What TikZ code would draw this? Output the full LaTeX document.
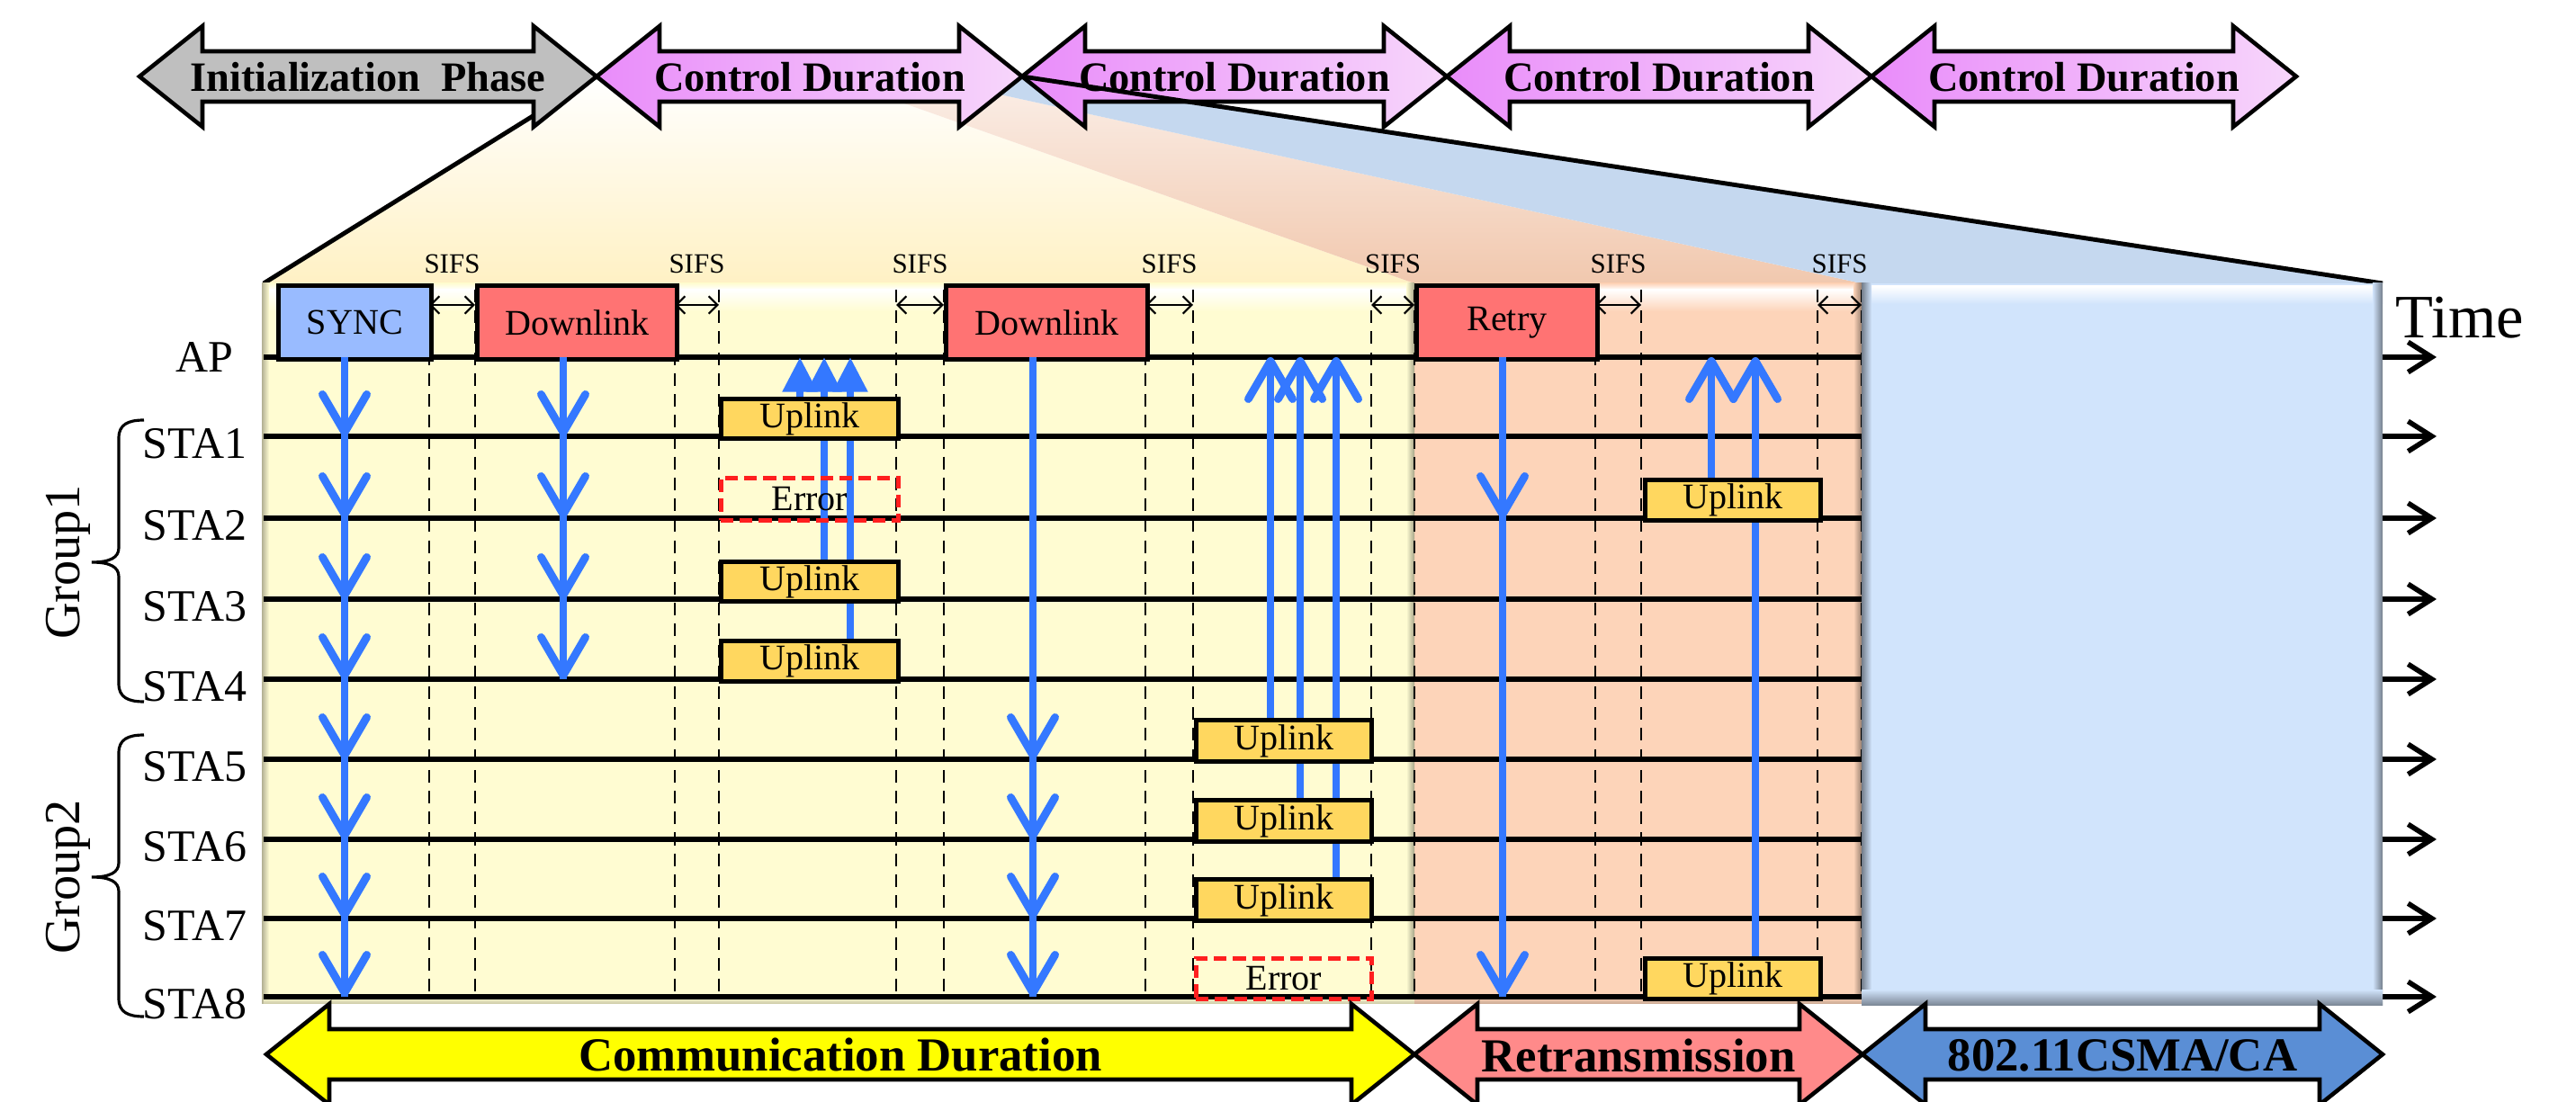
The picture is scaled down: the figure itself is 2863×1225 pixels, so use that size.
\documentclass[tikz,border=0pt]{standalone}
\usepackage{fontspec}
\setmainfont{Liberation Serif}
\usetikzlibrary{arrows.meta}

\definecolor{pyel}{HTML}{FFFCD2}
\definecolor{porg}{HTML}{FDD4B9}
\definecolor{pblu}{HTML}{D1E4FC}
\definecolor{syncc}{HTML}{99BBFF}
\definecolor{dlc}{HTML}{FF7373}
\definecolor{ulc}{HTML}{FFD75F}
\definecolor{arrb}{HTML}{3478FF}
\definecolor{errc}{HTML}{FF1F1F}
\definecolor{initc}{HTML}{BFBFBF}
\definecolor{cdL}{HTML}{E98CFA}
\definecolor{cdR}{HTML}{F7D6FB}
\definecolor{commc}{HTML}{FFFF00}
\definecolor{retc}{HTML}{FF8A8A}
\definecolor{csmac}{HTML}{5A8ED5}
\definecolor{fanY}{HTML}{FFF1C4}
\definecolor{fanOt}{HTML}{FBEFE8}
\definecolor{fanO}{HTML}{F1C8AE}
\definecolor{fanB}{HTML}{C5D8EF}

% double-headed block arrow: left tip x, right tip x, centre y, options
\newcommand\bigarrow[4]{%
  \draw[#4] (#1,#3) -- ++(70,-56) -- ++(0,28) -- (#2-70,#3-28) -- ++(0,-28)
    -- (#2,#3) -- ++(-70,56) -- ++(0,-28) -- (#1+70,#3+28) -- ++(0,28) -- cycle;}

% labelled slot: name, left x, top y, right x, bottom y, style, text
\newcommand\slot[7]{%
  \node[#6, anchor=north west, minimum width={(#4-#2)*0.01cm},
        minimum height={(#5-#3)*0.01cm}] (#1) at (#2,#3) {#7};}

% curly brace opening to the right: top y, cusp y, bottom y
\newcommand\grpbrace[3]{%
  \draw[line width=0.9pt] (160,#1) .. controls (142,#1) and (132,#1+5) .. (132,#1+20)
    -- (132,#2-16) .. controls (132,#2-5) and (122,#2) .. (102,#2)
    .. controls (122,#2) and (132,#2+5) .. (132,#2+16)
    -- (132,#3-20) .. controls (132,#3-5) and (142,#3) .. (160,#3);}

\begin{document}
\begin{tikzpicture}[x=0.01cm, y=-0.01cm,
  bigarr/.style={line width=1.3pt, line join=miter},
  toplabel/.style={font=\bfseries\fontsize{13.2pt}{15pt}\selectfont},
  botlabel/.style={font=\bfseries\fontsize{15pt}{17pt}\selectfont},
  staline/.style={line width=1.6pt, -{Straight Barb[length=7.5pt,width=9.5pt]}},
  gridline/.style={dash pattern=on 4pt off 2.6pt, line width=0.75pt},
  sifsarr/.style={line width=0.6pt, {Straight Barb[length=2.8pt,width=5.5pt]}-{Straight Barb[length=2.8pt,width=5.5pt]}},
  sifslabel/.style={font=\fontsize{8.8pt}{10pt}\selectfont},
  slotbox/.style={draw, line width=1.4pt, inner sep=0pt, font=\fontsize{11.4pt}{13pt}\selectfont},
  errbox/.style={draw=errc, dash pattern=on 4pt off 2pt, line width=1.3pt, inner sep=0pt, font=\fontsize{11.4pt}{13pt}\selectfont},
  bshaft/.style={line width=2.5pt, draw=arrb},
  bhead/.style={line width=2.5pt, draw=arrb, -{Straight Barb[length=12pt,width=14pt,round]}},
  bfilled/.style={line width=2.5pt, draw=arrb, -{Triangle[length=11pt,width=10.5pt,fill=arrb]}},
  rowlabel/.style={anchor=east, inner sep=0pt, font=\fontsize{14.2pt}{16pt}\selectfont},
  grouplabel/.style={rotate=90, font=\fontsize{16pt}{18pt}\selectfont}
]
\useasboundingbox (0,0) rectangle (2863,1225);

% ---- projection fans from the first control duration down to the time line
\shade[top color=white, bottom color=fanY] (663,85) -- (920,85) -- (1572,315) -- (293,315) -- cycle;
\shade[top color=fanOt, bottom color=fanO] (920,85) -- (1020,85) -- (2069,315) -- (1572,315) -- cycle;
\fill[fanB] (1020,85) -- (1136,85) -- (2648,315) -- (2069,315) -- cycle;
\draw[line width=1.4pt] (663,85) -- (293,315);

% ---- phase arrows on top
\bigarrow{155}{663}{85}{bigarr, fill=initc}
\node[toplabel] (init) at (409,86) {Initialization\ \ Phase};
\bigarrow{663}{1136}{85}{bigarr, left color=cdL, right color=cdR}
\node[toplabel] (cd1) at (900,86) {Control Duration};
\bigarrow{1136}{1608}{85}{bigarr, left color=cdL, right color=cdR}
\node[toplabel] (cd2) at (1372,86) {Control Duration};
\bigarrow{1608}{2080}{85}{bigarr, left color=cdL, right color=cdR}
\node[toplabel] (cd3) at (1844,86) {Control Duration};
\bigarrow{2080}{2552}{85}{bigarr, left color=cdL, right color=cdR}
\node[toplabel] (cd4) at (2316,86) {Control Duration};
\draw[line width=1.4pt] (1136,85) -- (2648,315);

% ---- background panels
\fill[pyel] (293,315) rectangle (1572,1115);
\fill[porg] (1572,315) rectangle (2069,1115);
\shade[top color=pyel, bottom color=white] (293,315) rectangle (1572,322);
\shade[top color=white, bottom color=pyel] (293,322) rectangle (1572,346);
\shade[top color=porg, bottom color=white] (1572,315) rectangle (2069,322);
\shade[top color=white, bottom color=porg] (1572,322) rectangle (2069,346);
\shade[left color=black!30!pyel, right color=pyel] (291,315) rectangle (299,1115);
\shade[left color=pyel, right color=black!35!pyel] (1563,315) rectangle (1572,1115);
\shade[left color=porg, right color=black!40!porg] (2060,315) rectangle (2069,1115);
\shade[top color=pyel, bottom color=black!18!pyel] (293,1108) rectangle (1572,1115);
\shade[top color=porg, bottom color=black!18!porg] (1572,1108) rectangle (2069,1115);

% ---- slot boundaries
\foreach \x in {477,528,750,799,996,1049,1273,1326,1524,1572,1773,1824,2020,2069}
  \draw[gridline] (\x,322) -- (\x,1108);

% ---- station time lines
\foreach \y in {397,485,576,666,755,844,933,1021,1108}
  \draw[staline] (293,\y) -- (2708,\y);

% ---- contention period panel
\fill[pblu] (2069,315) rectangle (2648,1117);
\shade[top color=white, bottom color=pblu] (2069,318) rectangle (2648,338);
\shade[left color=black!45!pblu, right color=pblu] (2069,315) rectangle (2080,1117);
\shade[left color=pblu, right color=black!45!pblu] (2637,315) rectangle (2648,1117);
\shade[top color=pblu, bottom color=black!40!pblu] (2069,1100) rectangle (2648,1117);

\node[anchor=base west, inner sep=0pt, font=\fontsize{19.5pt}{22pt}\selectfont] (time) at (2662,376) {Time};

% ---- SIFS gaps
\foreach \a/\b in {477/528,750/799,996/1049,1273/1326,1524/1572,1773/1824,2020/2069}{
  \draw[sifsarr] (\a,339) -- (\b,339);
  \node[sifslabel] (sifs-\a) at ({(\a+\b)/2},293) {SIFS};
}

% ---- uplink transmissions towards the AP
\draw[bfilled] (889,441) -- (889,397);
\draw[bfilled] (916,622) -- (916,397);
\draw[bfilled] (945,710) -- (945,397);
\draw[bhead] (1412,798) -- (1412,397);
\draw[bhead] (1445,887) -- (1445,397);
\draw[bhead] (1485,975) -- (1485,397);
\draw[bhead] (1902,531) -- (1902,397);
\draw[bhead] (1951,1063) -- (1951,397);

% ---- frames
\slot{sync}{307}{315}{477}{397}{slotbox, fill=syncc}{SYNC}
\slot{dl1}{528}{315}{750}{397}{slotbox, fill=dlc}{Downlink}
\slot{dl2}{1049}{315}{1273}{397}{slotbox, fill=dlc}{Downlink}
\slot{retry}{1572}{315}{1773}{397}{slotbox, fill=dlc}{Retry}
\slot{ul1}{799}{441}{996}{485}{slotbox, fill=ulc}{Uplink}
\slot{err2}{799}{529}{996}{576}{errbox}{Error}
\slot{ul3}{799}{622}{996}{666}{slotbox, fill=ulc}{Uplink}
\slot{ul4}{799}{710}{996}{755}{slotbox, fill=ulc}{Uplink}
\slot{ul5}{1327}{798}{1522}{844}{slotbox, fill=ulc}{Uplink}
\slot{ul6}{1327}{887}{1522}{933}{slotbox, fill=ulc}{Uplink}
\slot{ul7}{1327}{975}{1522}{1021}{slotbox, fill=ulc}{Uplink}
\slot{err8}{1327}{1063}{1522}{1108}{errbox}{Error}
\slot{rt2}{1826}{531}{2021}{576}{slotbox, fill=ulc}{Uplink}
\slot{rt8}{1826}{1063}{2021}{1108}{slotbox, fill=ulc}{Uplink}

% ---- downlink transmissions from the AP
\draw[bshaft] (383,397) -- (383,1108);
\foreach \y in {485,576,666,755,844,933,1021,1108}
  \draw[bhead] (383,\y-40) -- (383,\y);
\draw[bshaft] (626,397) -- (626,755);
\foreach \y in {485,576,666,755}
  \draw[bhead] (626,\y-40) -- (626,\y);
\draw[bshaft] (1148,397) -- (1148,1108);
\foreach \y in {844,933,1021,1108}
  \draw[bhead] (1148,\y-40) -- (1148,\y);
\draw[bshaft] (1670,397) -- (1670,1108);
\foreach \y in {576,1108}
  \draw[bhead] (1670,\y-40) -- (1670,\y);

% ---- station labels and groups
\node[rowlabel] (lap) at (260,397) {AP};
\foreach \n/\y in {1/485,2/576,3/666,4/755,5/844,6/933,7/1021,8/1108}
  \node[rowlabel] (lsta\n) at (275,\y+8) {STA\n};
\grpbrace{467}{625}{780}
\grpbrace{817}{975}{1130}
\node[grouplabel] (g1) at (76,625) {Group1};
\node[grouplabel] (g2) at (76,975) {Group2};

% ---- period arrows at the bottom
\bigarrow{296}{1572}{1172}{bigarr, fill=commc}
\node[botlabel] (comm) at (934,1173) {Communication Duration};
\bigarrow{1572}{2070}{1172}{bigarr, fill=retc}
\node[botlabel] (retx) at (1821,1173) {Retransmission};
\bigarrow{2070}{2648}{1172}{bigarr, fill=csmac}
\node[botlabel] (csma) at (2359,1173) {802.11CSMA/CA};
\end{tikzpicture}
\end{document}
